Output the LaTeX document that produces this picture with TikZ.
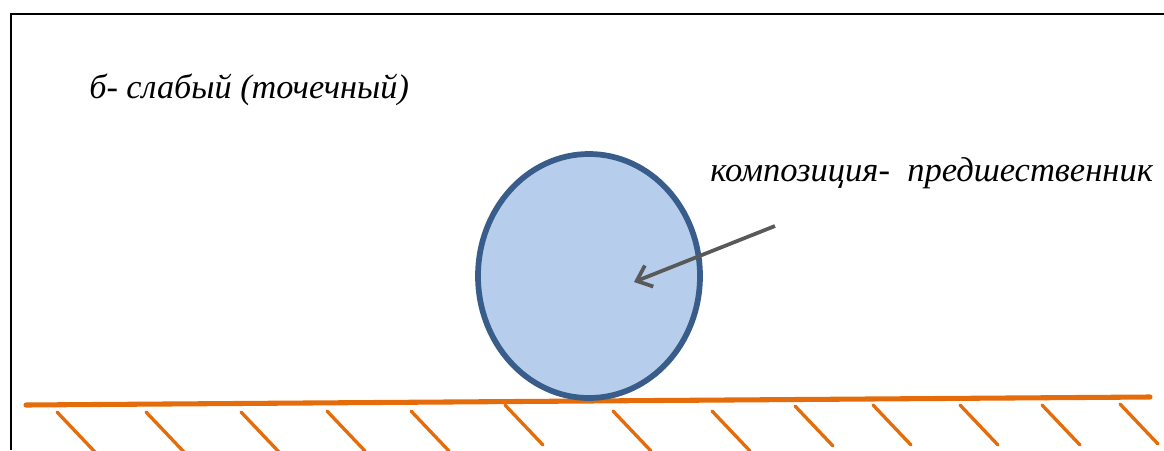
\documentclass[tikz,border=0pt]{standalone}
\usepackage{fontspec}
\setmainfont{Liberation Serif}
\definecolor{groundc}{HTML}{E46C0A}
\definecolor{ringc}{HTML}{385D8A}
\definecolor{fillc}{HTML}{B6CDEB}
\definecolor{arrc}{HTML}{595959}
\usetikzlibrary{arrows.meta,shapes.geometric}
\begin{document}
\begin{tikzpicture}[x=0.75pt,y=-0.75pt,
  hatch/.style={groundc,line width=2.5pt,line cap=round},
  lbl/.style={inner sep=0pt,anchor=base west,font=\itshape}]
\useasboundingbox (0,0) rectangle (1164,450);
% frame
\draw[black,line width=1.5pt] (11,450) -- (11,14) -- (1164,14);
% ground
\coordinate (gl) at (26,405);
\coordinate (gr) at (1150,397);
\draw[groundc,line width=3.8pt,line cap=round] (gl) -- (gr);
\foreach \x/\y in {57/412,146/412,241/412,327/411,411/411,505/405,613/411,712/411,795/406,873/405,960/405,1042/405,1120/404}{
  \draw[hatch] (\x,\y) -- ++(38,40);
}
% circle
\node[draw=ringc,fill=fillc,line width=4.3pt,ellipse,minimum width=222*0.75pt,minimum height=244*0.75pt,inner sep=0pt] (c) at (589,276) {};
% arrow
\coordinate (as) at (775,226);
\coordinate (ae) at (634,282);
\draw[arrc,line width=2.8pt,-{Straight Barb[length=10pt,width=17pt,line width=2.8pt]}] (as) -- (ae);
% labels
\node[lbl,font=\itshape\fontsize{25.7}{28}\selectfont] (t1) at (89,98) {б- слабый (точечный)};
\node[lbl,font=\itshape\fontsize{25.9}{28}\selectfont] (t2) at (710,181) {композиция-\ \ предшественник};
\end{tikzpicture}
\end{document}
